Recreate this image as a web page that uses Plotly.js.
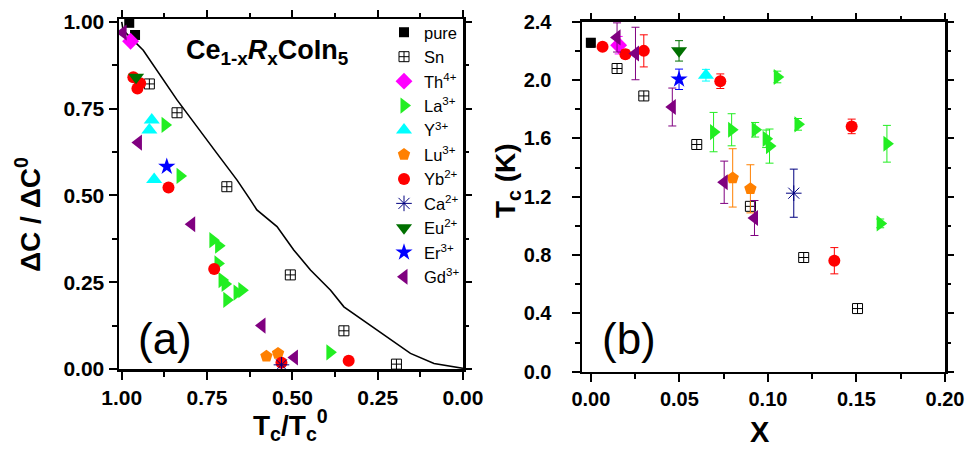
<!DOCTYPE html>
<html>
<head>
<meta charset="utf-8">
<script src="https://cdn.plot.ly/plotly-3.0.1.min.js"></script>
<style>html,body{margin:0;padding:0;background:#fff;}</style>
</head>
<body>
<div id="chart" style="width:966px;height:459px;"></div>
<script>
// ---------- Panel (a): dC/dC0 vs Tc/Tc0 ----------
const seriesNames = ["pure","Sn","Th<sup>4+</sup>","La<sup>3+</sup>","Y<sup>3+</sup>","Lu<sup>3+</sup>","Yb<sup>2+</sup>","Ca<sup>2+</sup>","Eu<sup>2+</sup>","Er<sup>3+</sup>","Gd<sup>3+</sup>"];

const pureA_t = [0.978, 0.961];               const pureA_c = [0.997, 0.962];
const snA_t   = [0.919, 0.838, 0.692, 0.506, 0.349, 0.195];
const snA_c   = [0.821, 0.738, 0.525, 0.271, 0.110, 0.014];
const thA_t   = [0.974];                      const thA_c = [0.944];
const laA_t   = [0.873, 0.829, 0.733, 0.716, 0.718, 0.706, 0.697, 0.692, 0.662, 0.648, 0.390];
const laA_c   = [0.703, 0.556, 0.371, 0.355, 0.304, 0.256, 0.245, 0.199, 0.220, 0.227, 0.048];
const yA_t    = [0.912, 0.919, 0.905];        const yA_c = [0.717, 0.688, 0.546];
const luA_t   = [0.576, 0.542];               const luA_c = [0.037, 0.045];
const ybA_t   = [0.966, 0.946, 0.954, 0.863, 0.729, 0.532, 0.335];
const ybA_c   = [0.840, 0.823, 0.808, 0.523, 0.288, 0.018, 0.024];
const caA_t   = [0.532];                      const caA_c = [0.012];
const euA_t   = [0.958];                      const euA_c = [0.840];
const erA_t   = [0.868];                      const erA_c = [0.583];
const gdA_t   = [0.996, 0.951, 0.795, 0.589, 0.494];
const gdA_c   = [0.969, 0.652, 0.417, 0.125, 0.033];

// theory curve
const curve_t = [1.000, 0.996, 0.937, 0.838, 0.721, 0.662, 0.623, 0.604, 0.545, 0.496, 0.447, 0.388, 0.349, 0.281, 0.212, 0.154, 0.085, 0.000];
const curve_c = [1.000, 0.976, 0.918, 0.775, 0.621, 0.544, 0.487, 0.458, 0.410, 0.343, 0.285, 0.227, 0.179, 0.132, 0.084, 0.045, 0.016, 0.002];

// ---------- Panel (b): Tc vs x ----------
const pureB_x = [0.000];  const pureB_tc = [2.255]; const pureB_e = [0.03];
const snB_x   = [0.0148, 0.0299, 0.0598, 0.0901, 0.1202, 0.1506];
const snB_tc  = [2.079, 1.891, 1.558, 1.134, 0.783, 0.433];
const thB_x   = [0.0157]; const thB_tc = [2.239]; const thB_e = [0.06];
const laB_x   = [0.0693, 0.0795, 0.0928, 0.0990, 0.1009, 0.1053, 0.1170, 0.1634, 0.1672];
const laB_tc  = [1.643, 1.659, 1.659, 1.597, 1.547, 2.021, 1.696, 1.017, 1.563];
const laB_e   = [0.135, 0.110, 0.050, 0.060, 0.117, 0.040, 0.040, 0.030, 0.126];
const yB_x    = [0.065];  const yB_tc = [2.033];  const yB_e = [0.04];
const luB_x   = [0.0801, 0.0901]; const luB_tc = [1.329, 1.254]; const luB_e = [0.20, 0.165];
const ybB_x   = [0.0066, 0.0195, 0.0299, 0.0731, 0.1375, 0.1473];
const ybB_tc  = [2.228, 2.177, 2.200, 1.992, 0.761, 1.682];
const ybB_e   = [0.02, 0.03, 0.11, 0.05, 0.09, 0.05];
const caB_x   = [0.1146]; const caB_tc = [1.224]; const caB_e = [0.165];
const euB_x   = [0.0498]; const euB_tc = [2.200]; const euB_e = [0.07];
const erB_x   = [0.0498]; const erB_tc = [2.005]; const erB_e = [0.07];
const gdB_x   = [0.0148, 0.0252, 0.0460, 0.0753, 0.0924];
const gdB_tc  = [2.292, 2.182, 1.815, 1.299, 1.054];
const gdB_e   = [0.10, 0.18, 0.13, 0.145, 0.12];

// tick labels
const ticksA_x = [1, 0.75, 0.5, 0.25, 0];
const ticksA_y = [0, 0.25, 0.5, 0.75, 1];
const ticksB_x = [0, 0.05, 0.10, 0.15, 0.20];
const ticksB_y = [0, 0.4, 0.8, 1.2, 1.6, 2.0, 2.4];

// styles
const styles = [
  {symbol:"square", color:"#000000", size:10},
  {symbol:"square-cross-open", color:"#000000", size:10, lw:1},
  {symbol:"diamond", color:"#ff00ff", size:13},
  {symbol:"triangle-right", color:"#22ee22", size:14},
  {symbol:"triangle-up", color:"#00ffff", size:14},
  {symbol:"pentagon", color:"#ff8000", size:13},
  {symbol:"circle", color:"#ff0000", size:12},
  {symbol:"asterisk-open", color:"#000080", size:13, lw:1},
  {symbol:"triangle-down", color:"#007000", size:14},
  {symbol:"star", color:"#0000ff", size:13},
  {symbol:"triangle-left", color:"#800080", size:14}
];

const A = [[pureA_t,pureA_c],[snA_t,snA_c],[thA_t,thA_c],[laA_t,laA_c],[yA_t,yA_c],[luA_t,luA_c],[ybA_t,ybA_c],[caA_t,caA_c],[euA_t,euA_c],[erA_t,erA_c],[gdA_t,gdA_c]];
const B = [[pureB_x,pureB_tc,pureB_e],[snB_x,snB_tc,null],[thB_x,thB_tc,thB_e],[laB_x,laB_tc,laB_e],[yB_x,yB_tc,yB_e],[luB_x,luB_tc,luB_e],[ybB_x,ybB_tc,ybB_e],[caB_x,caB_tc,caB_e],[euB_x,euB_tc,euB_e],[erB_x,erB_tc,erB_e],[gdB_x,gdB_tc,gdB_e]];

function mk(s){
  return {symbol:s.symbol, color:s.color, size:s.size,
          line:{color:s.color, width: s.lw !== undefined ? s.lw : 0}};
}

const traces = [];
traces.push({x:curve_t, y:curve_c, mode:"lines", line:{color:"#000", width:1.6}, showlegend:false, xaxis:"x", yaxis:"y", hoverinfo:"skip"});
for (let i=0;i<seriesNames.length;i++){
  traces.push({x:A[i][0], y:A[i][1], mode:"markers", name:seriesNames[i], legendgroup:"g"+i,
    marker:mk(styles[i]), xaxis:"x", yaxis:"y", showlegend:true});
}
for (let i=0;i<seriesNames.length;i++){
  const t = {x:B[i][0], y:B[i][1], mode:"markers", name:seriesNames[i], legendgroup:"g"+i,
    marker:mk(styles[i]), xaxis:"x2", yaxis:"y2", showlegend:false};
  if (B[i][2]) t.error_y = {type:"data", array:B[i][2], visible:true, color:styles[i].color, thickness:1, width:4};
  traces.push(t);
}
// empty traces so that the mirror-tick axes get drawn
traces.push({x:[], y:[], xaxis:"x3", yaxis:"y3", showlegend:false, mode:"markers"});
traces.push({x:[], y:[], xaxis:"x4", yaxis:"y4", showlegend:false, mode:"markers"});

const F = "Liberation Sans, Arial, Helvetica, sans-serif";
const tickF = {family:F, size:21, color:"#000", weight:"bold"};
const axBase = {showline:true, linecolor:"#000", linewidth:2.5, mirror:true, ticks:"outside",
  ticklen:8, tickwidth:2, tickcolor:"#000", showgrid:false, zeroline:false, tickfont:tickF};
const minorOf = d => ({dtick:d, ticklen:5, tickwidth:2, tickcolor:"#000", ticks:"outside", showgrid:false});
const W=966, H=459;
const domAx = [119/W, 463/W], domAy = [1-369/H, 1-19/H];
const domBx = [582/W, 945/W], domBy = [1-371.7/H, 1-21.7/H];

const layout = {
  width:W, height:H, margin:{l:0,r:0,t:0,b:0}, paper_bgcolor:"#fff", plot_bgcolor:"rgba(0,0,0,0)",
  showlegend:true,
  legend:{x:384/W, y:1-15/H, xanchor:"left", yanchor:"top", bgcolor:"rgba(0,0,0,0)",
    font:{family:F, size:16.5, color:"#000"}, tracegroupgap:0, itemsizing:"trace"},
  xaxis:Object.assign({}, axBase, {domain:domAx, range:[1.008, 0], tickvals:ticksA_x, tickformat:".2f",
    minor:minorOf(0.125), anchor:"y"}),
  yaxis:Object.assign({}, axBase, {domain:domAy, range:[0, 1.008], tickvals:ticksA_y, tickformat:".2f",
    minor:minorOf(0.125), anchor:"x"}),
  xaxis3:{overlaying:"x", side:"top", anchor:"y", range:[1.008, 0], tickvals:ticksA_x, showticklabels:false,
    ticks:"outside", ticklen:8, tickwidth:2, tickcolor:"#000", showline:false, showgrid:false, zeroline:false, minor:minorOf(0.125)},
  yaxis3:{overlaying:"y", side:"right", anchor:"x", range:[0, 1.008], tickvals:ticksA_y, showticklabels:false,
    ticks:"outside", ticklen:8, tickwidth:2, tickcolor:"#000", showline:false, showgrid:false, zeroline:false, minor:minorOf(0.125)},
  xaxis2:Object.assign({}, axBase, {domain:domBx, range:[-0.005, 0.2], tickvals:ticksB_x, tickformat:".2f",
    tickfont:Object.assign({}, tickF, {size:20}), minor:minorOf(0.025), anchor:"y2"}),
  yaxis2:Object.assign({}, axBase, {domain:domBy, range:[0, 2.4], tickvals:ticksB_y, tickformat:".1f",
    tickfont:Object.assign({}, tickF, {size:20}), ticklabelstandoff:16, minor:minorOf(0.2), anchor:"x2"}),
  xaxis4:{overlaying:"x2", side:"top", anchor:"y2", range:[-0.005, 0.2], tickvals:ticksB_x, showticklabels:false,
    ticks:"outside", ticklen:8, tickwidth:2, tickcolor:"#000", showline:false, showgrid:false, zeroline:false, minor:minorOf(0.025)},
  yaxis4:{overlaying:"y2", side:"right", anchor:"x2", range:[0, 2.4], tickvals:ticksB_y, showticklabels:false,
    ticks:"outside", ticklen:8, tickwidth:2, tickcolor:"#000", showline:false, showgrid:false, zeroline:false, minor:minorOf(0.2)},
  annotations:[
    {text:"Ce<sub>1-x</sub><i>R</i><sub>x</sub>CoIn<sub>5</sub>", xref:"paper", yref:"paper", x:267/W, y:1-52/H,
      xanchor:"center", yanchor:"middle", showarrow:false, font:{family:F, size:27, color:"#000", weight:"bold"}},
    {text:"(a)", xref:"paper", yref:"paper", x:165/W, y:1-338/H, xanchor:"center", yanchor:"middle",
      showarrow:false, font:{family:F, size:44, color:"#000"}},
    {text:"(b)", xref:"paper", yref:"paper", x:629/W, y:1-338/H, xanchor:"center", yanchor:"middle",
      showarrow:false, font:{family:F, size:44, color:"#000"}},
    {text:"ΔC / ΔC<sup>0</sup>", xref:"paper", yref:"paper", x:28/W, y:1-215/H, textangle:-90,
      xanchor:"center", yanchor:"middle", showarrow:false, font:{family:F, size:28, color:"#000", weight:"bold"}},
    {text:"T<sub>c</sub>/T<sub>c</sub><sup>0</sup>", xref:"paper", yref:"paper", x:290/W, y:1-425/H,
      xanchor:"center", yanchor:"middle", showarrow:false, font:{family:F, size:28, color:"#000", weight:"bold"}},
    {text:"X", xref:"paper", yref:"paper", x:760/W, y:1-432/H, xanchor:"center", yanchor:"middle",
      showarrow:false, font:{family:F, size:29, color:"#000", weight:"bold"}},
    {text:"T<sub>c</sub> (K)", xref:"paper", yref:"paper", x:508/W, y:1-180/H, textangle:-90,
      xanchor:"center", yanchor:"middle", showarrow:false, font:{family:F, size:28, color:"#000", weight:"bold"}}
  ]
};

Plotly.newPlot("chart", traces, layout, {displayModeBar:false, staticPlot:true});
</script>
</body>
</html>
